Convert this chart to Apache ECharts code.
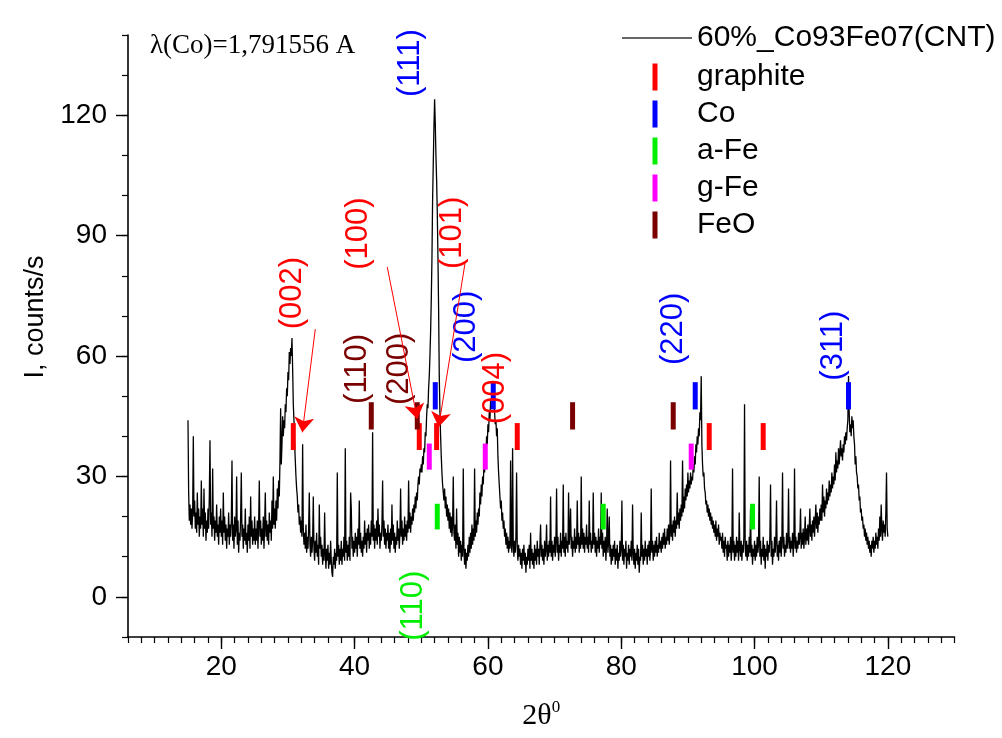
<!DOCTYPE html>
<html>
<head>
<meta charset="utf-8">
<script src="https://cdn.jsdelivr.net/npm/echarts@6/dist/echarts.min.js"></script>
<style>
html,body{margin:0;padding:0;background:#fff;}
#chart{width:1002px;height:738px;}
</style>
</head>
<body>
<div id="chart"></div>
<script>
// ---- Data ----
const thetaStart = 15;
const thetaStep = 0.1;
const seg15 = [44,26,19,23,18,22,17,21,40,20, 24,17,21,16,26,18,22,15,20,17, 29,18,22,15,27,17,21,14,19,16, 22,17,25,39,18,21,15,32,17,20, 14,19,16,23,15,18,13,20,16,22];
const seg20 = [15,19,13,26,16,20,14,18,12,17, 15,21,13,18,15,19,34,14,18,12, 20,15,17,30,13,19,11,16,14,20, 31,15,18,12,17,14,22,13,16,11, 18,14,20,12,25,15,19,13,17,14];
const seg25 = [20,13,17,14,19,12,18,29,15,19, 13,17,14,20,12,18,26,15,19,14, 18,13,21,16,19,14,24,17,30,18, 22,17,24,19,27,22,29,25,34,47, 33,38,45,40,44,42,48,46,52,50];
const seg30 = [56,54,61,58,62,60,64.5,57,48,44, 38,34,30,27,25,21,23,18,20,16, 19,15,38,17,13,16,12,18,11,15, 12,17,26,13,10,15,11,14,25,12, 9,14,11,16,10,13,8,23,12,15];
const seg35 = [10,13,8,12,9,21,11,7,12,9, 13,7,11,8,14,9,6,5,10,8, 12,7,11,9,31,10,13,8,12,9, 14,8,12,10,15,9,37,11,14,9, 13,10,15,9,26,22,12,15,10,14];
const seg40 = [11,16,12,15,10,17,13,24,12,16, 11,14,10,15,12,19,13,16,11,17, 14,18,12,16,13,19,15,41,14,18, 12,17,14,19,13,22,15,18,12,16, 14,18,29,15,19,13,17,12,16,14];
const seg45 = [18,12,16,11,17,13,23,14,18,12, 16,11,15,13,19,14,17,12,16,27, 15,19,13,17,14,20,15,18,14,19, 16,29,17,21,16,20,18,22,19,23, 21,25,22,26,24,28,30,28,32,31];
const seg50 = [33,31,35,33,37,36,41,40,45,48, 47,52,55,60,66,74,84,99,108,117, 124,118,110,104,96,85,72,55,46,40, 35,31,28,26,24,27,22,25,20,23, 19,22,17,21,16,20,15,18,30,16];
const seg55 = [14,18,12,22,13,16,10,15,11,14, 9,13,10,32,12,8,12,7,11,9, 13,10,15,11,16,12,18,13,17,14, 32,15,19,16,21,18,22,20,26,23, 28,25,30,28,33,31,38,35,40,38];
const seg60 = [43,41,46,44,49,47,51,53,50,48, 46,43,44,40,42,35,31,28,25,22, 24,19,21,17,19,15,17,13,16,12, 15,11,14,12,34,13,11,37,13,10, 14,11,15,31,12,9,13,10,12,8];
const seg65 = [11,7,12,9,13,8,11,6,10,8, 12,9,13,7,16,9,12,8,11,7, 13,9,12,8,14,10,12,8,13,18, 10,13,9,12,8,14,10,12,18,9, 13,10,14,11,25,10,14,9,13,11];
const seg70 = [15,10,14,27,11,15,9,13,11,16, 10,14,12,28,11,15,10,16,12,14, 11,26,13,16,22,12,15,10,14,12, 17,11,15,12,24,13,16,11,15,12, 30,13,17,12,16,11,15,13,18,12];
const seg75 = [15,11,24,13,16,11,14,12,26,13, 16,11,15,10,14,12,17,11,15,13, 26,12,16,10,14,11,15,9,13,22, 11,14,20,10,13,8,12,9,13,10, 14,8,12,9,13,7,11,9,14,10];
const seg80 = [12,24,9,13,8,12,10,14,7,11, 9,13,8,12,10,14,9,23,11,8, 12,7,11,9,13,8,12,6,10,9, 21,10,13,8,12,9,14,10,12,8, 13,10,14,9,12,27,11,14,9,13];
const seg85 = [10,14,11,15,10,13,11,16,12,14, 11,15,12,16,13,17,12,15,13,17, 14,18,13,16,34,15,18,14,19,16, 20,15,19,17,26,18,21,17,22,19, 23,20,34,21,25,22,27,24,28,25];
const seg90 = [31,26,29,27,31,28,30,29,33,31, 35,33,38,36,40,38,42,40,46,44, 55,38,33,30,31,27,26,23,24,21, 23,20,22,19,21,18,20,17,19,16, 18,15,19,14,17,15,18,13,16,14];
const seg95 = [15,12,16,11,14,10,15,12,13,9, 14,10,13,11,15,9,12,32,11,14, 9,13,10,15,11,14,9,21,12,10, 14,9,13,11,15,48,12,10,14,9, 13,10,15,11,22,10,13,8,12,10];
const seg100 = [14,9,13,10,15,11,13,30,10,14, 8,12,10,15,9,13,7,12,10,14, 9,13,11,15,28,10,14,8,12,10, 15,11,14,24,10,13,9,14,11,15, 10,14,31,12,15,10,13,11,16,12];
const seg105 = [14,27,12,15,11,14,12,16,10,14, 32,12,15,11,14,12,16,13,15,22, 12,16,13,17,12,15,20,13,17,14, 18,13,17,22,15,18,14,19,16,20, 15,19,23,17,21,16,20,18,22,19];
const seg110 = [23,19,28,21,25,20,24,22,27,23, 26,24,29,25,28,26,31,27,30,28, 33,29,36,31,34,32,37,33,36,39, 35,37,34,38,36,40,38,41,39,42, 44,55,46,41,43,40,45,42,44,40];
const seg115 = [38,33,35,31,30,27,28,24,25,21, 22,19,20,17,18,15,17,14,16,13, 15,12,14,11,13,10,14,12,15,11, 14,12,16,13,15,12,17,14,20,15, 23,17,14,19,16,18,15,21,31,17];
const segEnd = [15];

// phase reference bars: 2theta positions and vertical band (counts/s)
const graphitePos = [30.8, 49.7, 52.3, 64.4, 93.2, 101.3];
const coPos = [52.1, 60.8, 91.1, 114.1];
const aFePos = [52.4, 77.3, 99.7];
const gFePos = [51.2, 59.6, 90.5];
const feoPos = [42.5, 49.4, 72.7, 87.8];
const graphiteBand = [36.6, 43.3];
const coBand = [46.7, 53.5];
const aFeBand = [16.8, 23.2];
const gFeBand = [31.7, 38.2];
const feoBand = [41.7, 48.5];

// hkl annotations: [2theta, counts, text, phase]
const hklLabels = [
  [30.7, 75.7, '(002)', 'graphite'],
  [40.5, 90.5, '(100)', 'graphite'],
  [54.7, 90.7, '(101)', 'graphite'],
  [48.4, 133, '(111)', 'Co'],
  [40.4, 56.8, '(110)', 'FeO'],
  [46.8, 56.8, '(200)', 'FeO'],
  [56.8, 67.3, '(200)', 'Co'],
  [61.1, 52, '(004)', 'graphite'],
  [87.8, 66.8, '(220)', 'Co'],
  [111.8, 62.6, '(311)', 'Co'],
  [48.9, -2.2, '(110)', 'a-Fe']
];
// arrows: [x0, y0, x1, y1]
const arrows = [
  [34.1, 66.7, 32.15, 41],
  [44.9, 82.2, 49.4, 44.3],
  [56.6, 83.5, 52.6, 42.3]
];

const xMajor = [20, 40, 60, 80, 100, 120];
const yMajor = [0, 30, 60, 90, 120];

const phaseColors = {graphite:'#ff0000', 'Co':'#0000ff', 'a-Fe':'#00ee00', 'g-Fe':'#ff00ff', 'FeO':'#7a0000'};

// ---- Build ----
const intensity = [].concat(seg15,seg20,seg25,seg30,seg35,seg40,seg45,seg50,seg55,seg60,
  seg65,seg70,seg75,seg80,seg85,seg90,seg95,seg100,seg105,seg110,seg115,segEnd);
const spectrum = intensity.map((v,i)=>[+(thetaStart + i*thetaStep).toFixed(1), v]);

function barData(pos, band){ return pos.map(x=>[x, band[0], band[1]]); }
function renderBar(params, api){
  const x = api.value(0);
  const p0 = api.coord([x, api.value(1)]);
  const p1 = api.coord([x, api.value(2)]);
  return {type:'rect', shape:{x:p0[0]-2.5, y:p1[1], width:5, height:p0[1]-p1[1]},
          style:{fill: api.visual('color')}};
}
function phaseSeries(name, pos, band){
  return {name:name, type:'custom', renderItem:renderBar, data:barData(pos, band),
    encode:{x:0, y:[1,2]}, itemStyle:{color:phaseColors[name]}, z:5, animation:false, clip:false};
}

const FONT = 'Liberation Sans';

const chart = echarts.init(document.getElementById('chart'));
chart.setOption({
  animation:false,
  backgroundColor:'#ffffff',
  grid:{left:128, right:47.5, top:35, bottom:101, containLabel:false},
  xAxis:[
    {type:'value', min:6, max:130, interval:2, position:'bottom',
     axisLine:{show:true, onZero:false, lineStyle:{color:'#000', width:1.6}},
     axisTick:{show:true, length:6, lineStyle:{color:'#000', width:1.2}},
     axisLabel:{show:false}, splitLine:{show:false}},
    {type:'value', min:6, max:130, position:'bottom',
     axisLine:{show:false, onZero:false},
     axisTick:{show:true, customValues:xMajor, length:12, lineStyle:{color:'#000', width:1.4}},
     axisLabel:{show:true, customValues:xMajor, color:'#000', fontSize:28, fontFamily:FONT, margin:16},
     splitLine:{show:false},
     name:'{a|2θ}{b|0}', nameLocation:'middle', nameGap:62,
     nameTextStyle:{rich:{
       a:{fontFamily:'Liberation Serif', fontSize:30, color:'#000', lineHeight:34},
       b:{fontFamily:'Liberation Serif', fontSize:17, color:'#000', lineHeight:34, verticalAlign:'top', padding:[0,0,10,0]}
     }}}
  ],
  yAxis:[
    {type:'value', min:-10, max:140, interval:10, position:'left',
     axisLine:{show:true, onZero:false, lineStyle:{color:'#000', width:1.6}},
     axisTick:{show:true, length:6, lineStyle:{color:'#000', width:1.2}},
     axisLabel:{show:false}, splitLine:{show:false}},
    {type:'value', min:-10, max:140, position:'left',
     axisLine:{show:false, onZero:false},
     axisTick:{show:true, customValues:yMajor, length:12, lineStyle:{color:'#000', width:1.4}},
     axisLabel:{show:true, customValues:yMajor, color:'#000', fontSize:28, fontFamily:FONT, margin:21},
     splitLine:{show:false},
     name:'I, counts/s', nameLocation:'middle', nameGap:72,
     nameTextStyle:{fontFamily:FONT, fontSize:27, color:'#000', padding:[0,0,0,38]}}
  ],
  legend:[
    {show:true, selectedMode:false, orient:'vertical', left:617, top:18,
     itemWidth:70, itemHeight:1.3,
     data:[{name:'60%_Co93Fe07(CNT)', icon:'rect', itemStyle:{color:'#333'}}],
     textStyle:{fontFamily:FONT, fontSize:30, color:'#000', lineHeight:30}},
    {show:true, selectedMode:false, orient:'vertical', left:647.5, top:57,
     itemWidth:5, itemHeight:27, itemGap:7,
     data:['graphite','Co','a-Fe','g-Fe','FeO'].map(n=>({name:n, icon:'rect'})),
     textStyle:{fontFamily:FONT, fontSize:30, color:'#000', lineHeight:30, padding:[0,0,0,34.5]}}
  ],
  graphic:[
    {type:'text', left:150, top:32, z:10,
     style:{text:'λ(Co)=1,791556 A', fontFamily:'Liberation Serif', fontSize:27, fill:'#000'}}
  ],
  series:[
    {name:'60%_Co93Fe07(CNT)', type:'line', data:spectrum, symbol:'none', showSymbol:false,
     sampling:null, lineStyle:{color:'#000', width:1.3}, itemStyle:{color:'#000'}, z:3},
    phaseSeries('graphite', graphitePos, graphiteBand),
    phaseSeries('Co', coPos, coBand),
    phaseSeries('a-Fe', aFePos, aFeBand),
    phaseSeries('g-Fe', gFePos, gFeBand),
    phaseSeries('FeO', feoPos, feoBand),
    {name:'hkl', type:'scatter', symbolSize:0, z:6, clip:false,
     itemStyle:{opacity:1},
     data:hklLabels.map(d=>({value:[d[0], d[1]], label:{color:phaseColors[d[3]]}})),
     label:{show:true, position:'inside', rotate:90, align:'center', verticalAlign:'middle',
       opacity:1, fontFamily:FONT, fontSize:31, textBorderWidth:0, textBorderColor:'transparent',
       formatter:(p)=>hklLabels[p.dataIndex][2]},
     emphasis:{disabled:true}},
    {name:'arrows', type:'lines', coordinateSystem:'cartesian2d', z:7,
     data:arrows.map(a=>({coords:[[a[0],a[1]],[a[2],a[3]]]})),
     symbol:['none','arrow'], symbolSize:[9,15],
     lineStyle:{color:'#ff0000', width:1, opacity:1, curveness:0}}
  ]
});
</script>
</body>
</html>
